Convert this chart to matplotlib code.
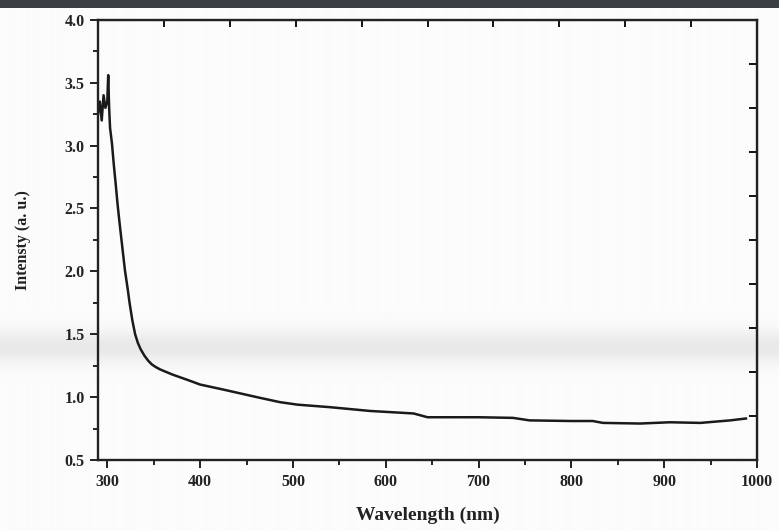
import numpy as np
import matplotlib
matplotlib.use("Agg")
import matplotlib.pyplot as plt
from matplotlib.patches import Rectangle
from matplotlib.ticker import MultipleLocator, FixedLocator

# Absorption spectrum: wavelength (nm) vs intensity (a. u.)
wavelength = [290, 292, 294, 296, 298, 300, 301, 302, 303, 305, 307, 309,
              311, 313, 315, 317, 319, 322, 324, 327, 330, 333, 336, 340,
              344, 348, 352, 357, 370, 389, 400, 425, 461, 486, 505, 540,
              583, 630, 645, 700, 737, 755, 800, 823, 834, 874, 906, 939,
              971, 988]
intensity = [3.25, 3.35, 3.20, 3.40, 3.30, 3.35, 3.56, 3.30, 3.14, 3.02, 2.85, 2.70,
             2.54, 2.40, 2.27, 2.14, 2.01, 1.86, 1.75, 1.61, 1.50, 1.43, 1.38, 1.33,
             1.29, 1.26, 1.24, 1.22, 1.18, 1.13, 1.10, 1.06, 1.00, 0.96, 0.94, 0.92,
             0.89, 0.87, 0.84, 0.84, 0.835, 0.815, 0.81, 0.81, 0.795, 0.79, 0.80, 0.795,
             0.815, 0.83]

x_ticks = [300, 400, 500, 600, 700, 800, 900, 1000]
y_ticks = [0.5, 1.0, 1.5, 2.0, 2.5, 3.0, 3.5, 4.0]

plt.rcParams['font.family'] = ['Liberation Serif', 'DejaVu Serif']
plt.rcParams['font.weight'] = 'bold'

fig = plt.figure(figsize=(7.79, 5.31), dpi=100)
fig.patch.set_facecolor('#fbfbfb')

# paper background with a soft grey band from the scan
bg = fig.add_axes([0, 0, 1, 1], zorder=-10)
rows = np.arange(531)
shade = 0.985 - 0.075 * np.exp(-((rows - 347) / 16.0) ** 2)
bg.imshow(shade[:, None], cmap='gray', vmin=0, vmax=1, aspect='auto',
          extent=[0, 1, 0, 1], origin='upper', interpolation='bilinear')
bg.axis('off')

ax = fig.add_axes([0.1258, 0.1337, 0.846, 0.829])
ax.set_facecolor('none')

ax.plot(wavelength, intensity, color='#1a1a1a', lw=1.8)

ax.set_xlim(290, 1000)
ax.set_ylim(0.5, 4.0)
ax.xaxis.set_major_locator(FixedLocator(x_ticks))
ax.xaxis.set_minor_locator(MultipleLocator(50))
ax.yaxis.set_major_locator(FixedLocator(y_ticks))
ax.yaxis.set_minor_locator(MultipleLocator(0.25))
ax.set_xticklabels([str(v) for v in x_ticks])
ax.set_yticklabels([f"{v:.1f}" for v in y_ticks])

ax.tick_params(axis='both', which='major', direction='out', length=6, width=1.4,
               labelsize=11.5, colors='#222222')
ax.tick_params(axis='x', which='major', pad=4)
ax.tick_params(axis='both', which='minor', direction='out', length=3.5, width=1.2)
for s in ax.spines.values():
    s.set_linewidth(1.7)
    s.set_color('#222222')

# Unlabelled inward ticks on the top and right frame
top = ax.secondary_xaxis('top')
top.set_xticks(np.linspace(290, 1000, 11)[1:-1])
top.tick_params(direction='in', length=5, width=1.3, labeltop=False)
top.set_xticklabels([])
right = ax.secondary_yaxis('right')
right.set_yticks(np.linspace(0.5, 4.0, 11)[1:-1])
right.tick_params(direction='in', length=6, width=1.3, labelright=False)
right.set_yticklabels([])

ax.set_xlabel('Wavelength (nm)', fontsize=14, fontweight='bold', labelpad=12,
              color='#222222')
ax.set_ylabel('Intensty (a. u.)', fontsize=11.5, fontweight='bold', labelpad=24,
              color='#222222')

# dark strip along the top edge of the page
fig.add_artist(Rectangle((0, 0.984), 1, 0.016, transform=fig.transFigure,
                         facecolor='#3a3f44', edgecolor='none', zorder=0))

fig.savefig('out.png', dpi=100, facecolor=fig.get_facecolor())
